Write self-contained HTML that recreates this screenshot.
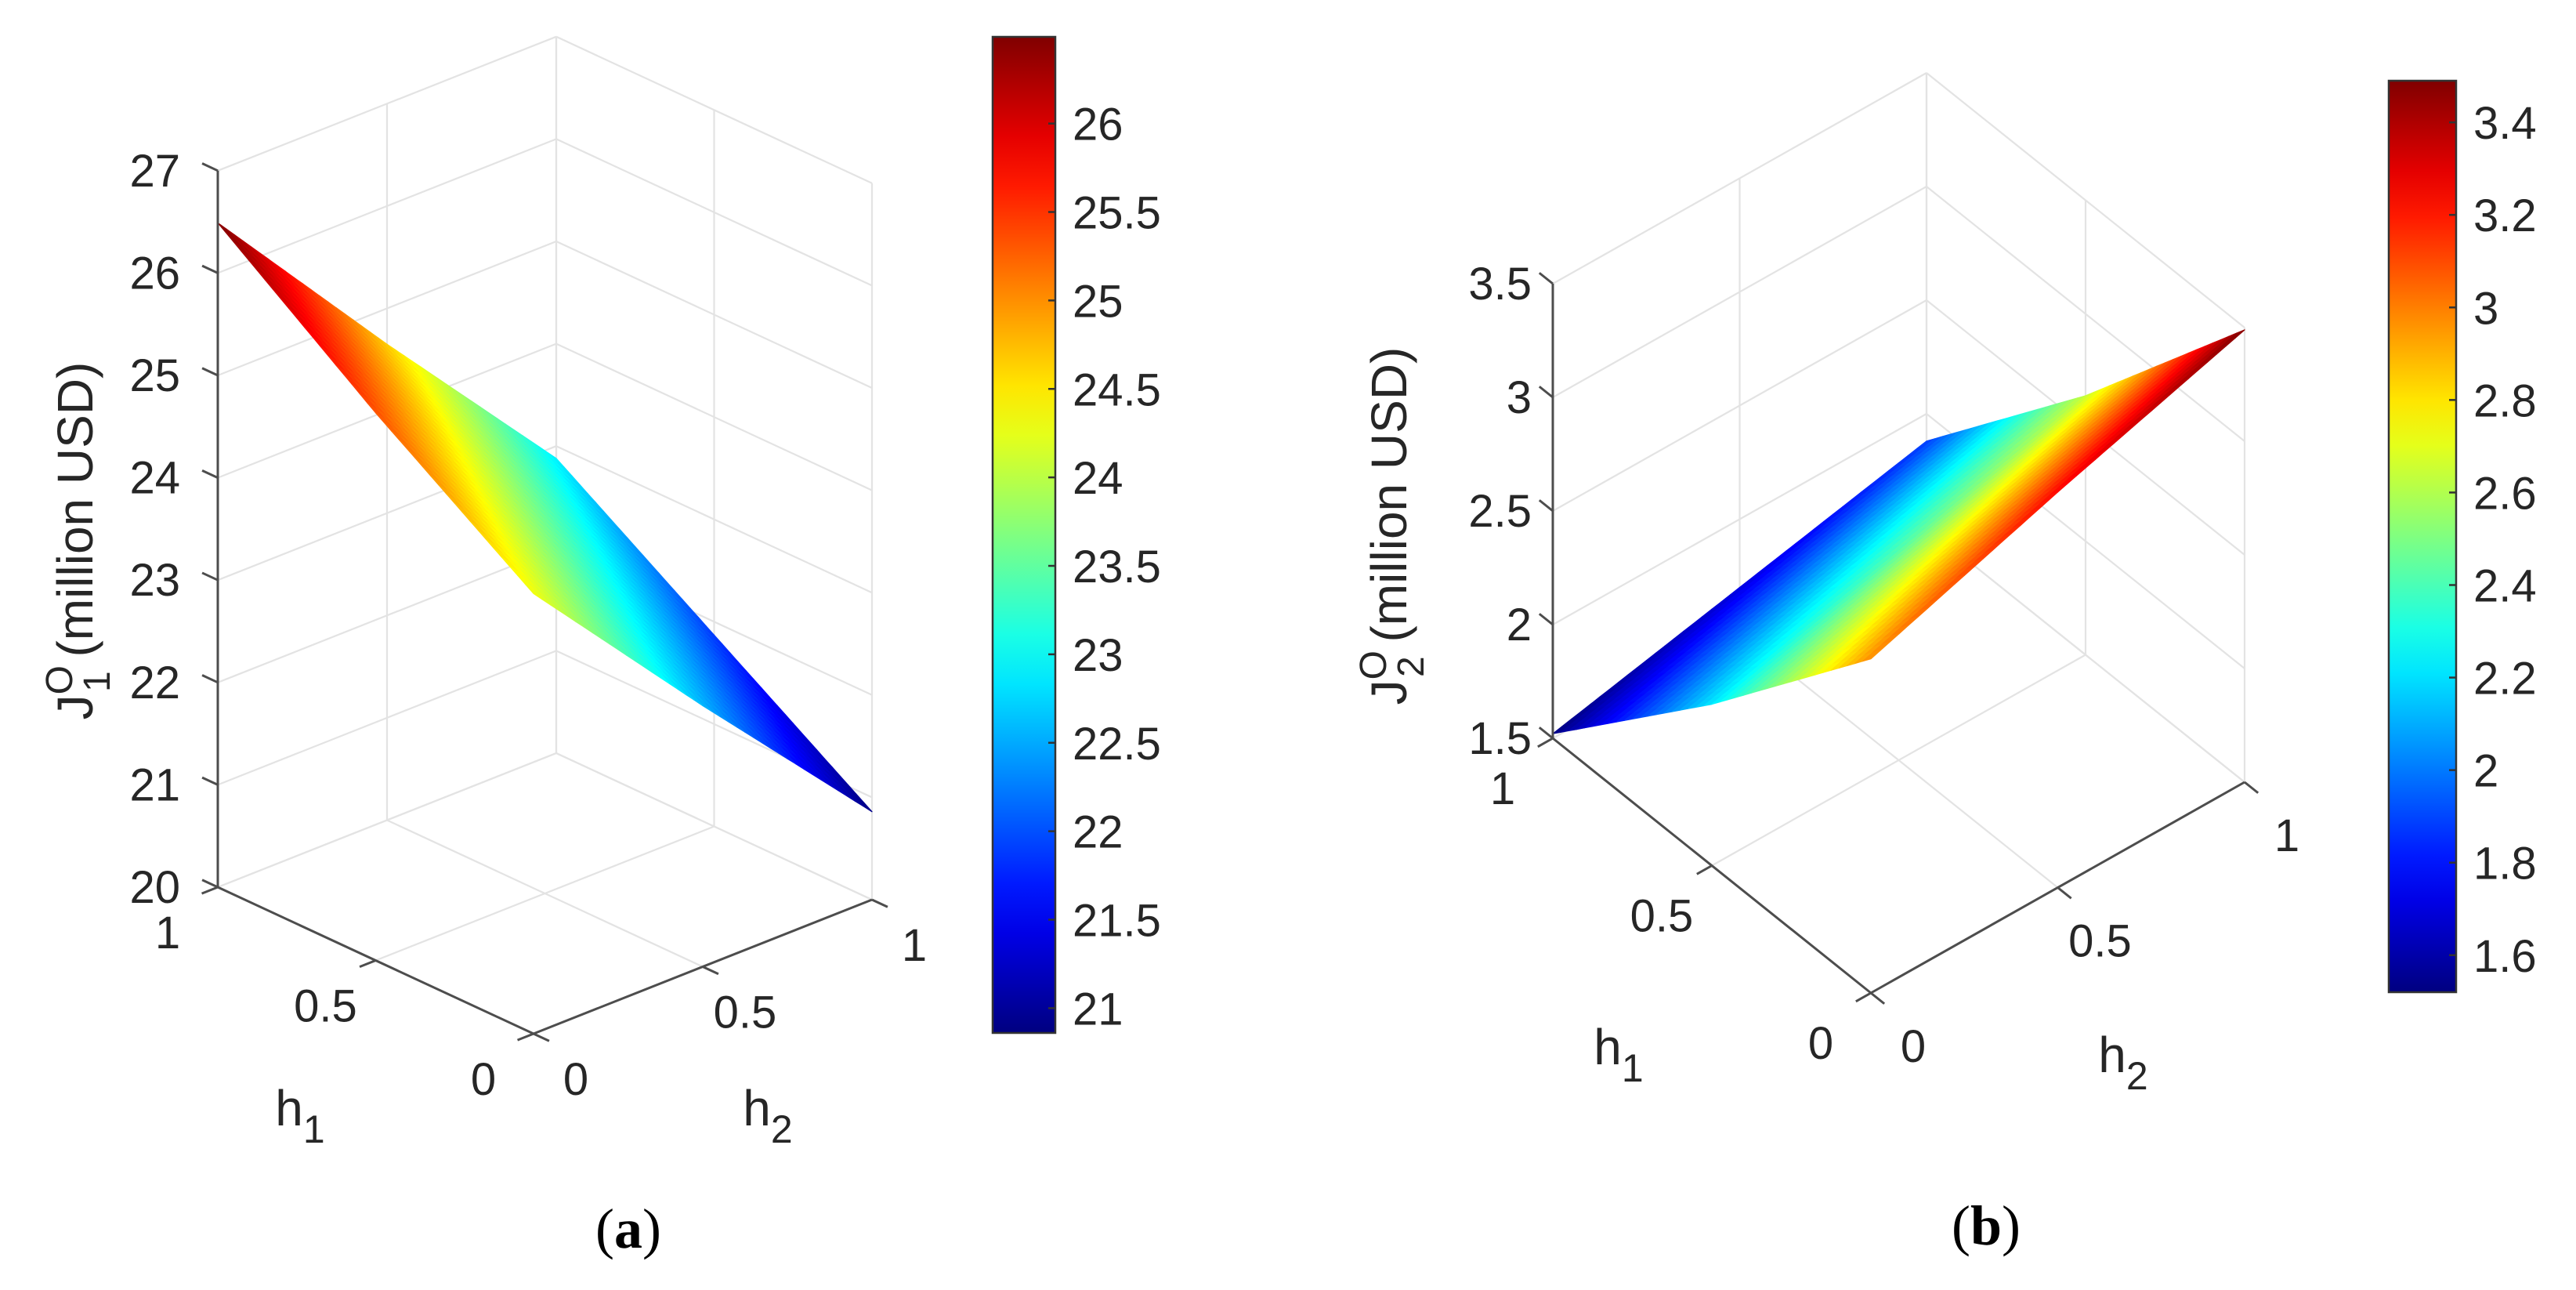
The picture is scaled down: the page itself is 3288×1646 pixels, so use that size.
<!DOCTYPE html>
<html><head><meta charset="utf-8">
<style>
html,body{margin:0;padding:0;background:#fff;}
svg{display:block;}
text{font-family:"Liberation Sans",sans-serif;fill:#262626;}
.cap{font-family:"Liberation Serif",serif;fill:#000;}
</style></head>
<body>
<svg id="fig" width="3288" height="1646" viewBox="0 0 3288 1646" xmlns="http://www.w3.org/2000/svg">
<defs>
<linearGradient id="jetGrad" x1="0" y1="1" x2="0" y2="0"></linearGradient>
</defs>
<g id="panelA"></g>
<g id="panelB"></g>
<text class="cap" x="802" y="1592" font-size="72" text-anchor="middle">(<tspan font-weight="bold">a</tspan>)</text>
<text class="cap" x="2535" y="1588" font-size="72" text-anchor="middle">(<tspan font-weight="bold">b</tspan>)</text>
</svg>
<script>
// ---- data ----
const h1Vals = [0, 0.5, 1];
const h2Vals = [0, 0.5, 1];
const h1Ticks = ["0", "0.5", "1"];
const h2Ticks = ["0", "0.5", "1"];
// surface values z[h1 index][h2 index]
const zA = [[24.30, 22.55, 20.86],
            [25.35, 23.60, 21.87],
            [26.49, 24.65, 22.88]];
const zB = [[2.97, 3.24, 3.49],
            [2.21, 2.42, 2.64],
            [1.52, 1.70, 1.88]];
const zTicksA = [20, 21, 22, 23, 24, 25, 26, 27];
const zTicksB = [1.5, 2, 2.5, 3, 3.5];
const cbTicksA = [21, 21.5, 22, 22.5, 23, 23.5, 24, 24.5, 25, 25.5, 26];
const cbTicksB = [1.6, 1.8, 2, 2.2, 2.4, 2.6, 2.8, 3, 3.2, 3.4];
const cbRangeA = [20.86, 26.49];
const cbRangeB = [1.52, 3.49];

const NS = "http://www.w3.org/2000/svg";
function jet(t){
  t = Math.max(0, Math.min(1, t));
  const c = v => Math.round(255 * Math.max(0, Math.min(1, v)));
  return `rgb(${c(1.5-Math.abs(4*t-3))},${c(1.5-Math.abs(4*t-2))},${c(1.5-Math.abs(4*t-1))})`;
}
const grad = document.getElementById('jetGrad');
for (let i = 0; i <= 20; i++) {
  const s = document.createElementNS(NS, 'stop');
  s.setAttribute('offset', (i/20).toString());
  s.setAttribute('stop-color', jet(i/20));
  grad.appendChild(s);
}
function el(parent, tag, attrs){
  const e = document.createElementNS(NS, tag);
  for (const k in attrs) e.setAttribute(k, attrs[k]);
  parent.appendChild(e);
  return e;
}
function interp(z, a, b){
  const fa = a*(h1Vals.length-1), fb = b*(h2Vals.length-1);
  const i = Math.min(Math.floor(fa), h1Vals.length-2), j = Math.min(Math.floor(fb), h2Vals.length-2);
  const u = fa - i, v = fb - j;
  return z[i][j]*(1-u)*(1-v) + z[i+1][j]*u*(1-v) + z[i][j+1]*(1-u)*v + z[i+1][j+1]*u*v;
}

const FS = 58;
function panel(cfg){
  const g = document.getElementById(cfg.id);
  const [zmin, zmax] = [cfg.zTicks[0], cfg.zTicks[cfg.zTicks.length-1]];
  const P = (a, b, z) => [cfg.O[0] + a*cfg.A[0] + b*cfg.B[0],
                          cfg.O[1] + a*cfg.A[1] + b*cfg.B[1] - (z - zmin)*cfg.zs];
  const line = (p, q, name, stroke, w) => {
    const l = el(g, 'line', {x1:p[0], y1:p[1], x2:q[0], y2:q[1], stroke:stroke, 'stroke-width':w});
    
    
    return l;
  };
  const gc = '#e3e3e3';
  cfg.zTicks.forEach(z => {
    line(P(1,0,z), P(1,1,z), 'grid-line-z', gc, 2.2);
    line(P(1,1,z), P(0,1,z), 'grid-line-z', gc, 2.2);
  });
  h2Vals.forEach(b => { if (b > 0) line(P(1,b,zmin), P(1,b,zmax), 'grid-line-h2-wall', gc, 2.2); });
  h1Vals.forEach(a => { line(P(a,1,zmin), P(a,1,zmax), 'grid-line-h1-wall', gc, 2.2); });
  h1Vals.forEach(a => { if (a > 0) line(P(a,0,zmin), P(a,1,zmin), 'grid-line-floor-h1', gc, 2.2); });
  h2Vals.forEach(b => { if (b > 0) line(P(0,b,zmin), P(1,b,zmin), 'grid-line-floor-h2', gc, 2.2); });

  const N = 40, quads = [];
  for (let i = 0; i < N; i++) for (let j = 0; j < N; j++) {
    const a0 = i/N, a1 = (i+1)/N, b0 = j/N, b1 = (j+1)/N;
    const zs = [interp(cfg.z,a0,b0), interp(cfg.z,a1,b0), interp(cfg.z,a1,b1), interp(cfg.z,a0,b1)];
    quads.push({d: a0 + b0, pts: [P(a0,b0,zs[0]), P(a1,b0,zs[1]), P(a1,b1,zs[2]), P(a0,b1,zs[3])],
                zc: (zs[0]+zs[1]+zs[2]+zs[3])/4});
  }
  quads.sort((p, q) => q.d - p.d);
  const sg = el(g, 'g', {});
  
  
  quads.forEach(q => {
    const col = jet((q.zc - cfg.cb[0]) / (cfg.cb[1] - cfg.cb[0]));
    const pg = el(sg, 'polygon', {points: q.pts.map(p => p[0].toFixed(1)+','+p[1].toFixed(1)).join(' '),
      fill: col, stroke: col, 'stroke-width': 1.2, 'stroke-linejoin': 'round'});
    
    
  });

  const ac = '#4d4d4d';
  line(P(1,0,zmin), P(1,0,zmax), 'z-axis', ac, 3);
  line(P(1,0,zmin), P(0,0,zmin), 'h1-axis', ac, 3);
  line(P(0,0,zmin), P(0,1,zmin), 'h2-axis', ac, 3);
  const nA = Math.hypot(cfg.A[0], cfg.A[1]), nB = Math.hypot(cfg.B[0], cfg.B[1]);
  cfg.zTicks.forEach((z, k) => {
    const p = P(1,0,z);
    line(p, [p[0] + cfg.A[0]/nA*22, p[1] + cfg.A[1]/nA*22], 'z-tick', ac, 3);
    const t = el(g, 'text', {x: cfg.zLabX, y: p[1] + 20, 'font-size': FS, 'text-anchor': 'end'});
    
    
    t.textContent = String(z);
  });
  h1Vals.forEach((a, k) => {
    const p = P(a,0,zmin);
    line(p, [p[0] - cfg.B[0]/nB*22, p[1] - cfg.B[1]/nB*22], 'h1-tick', ac, 3);
    const t = el(g, 'text', {x: p[0] + cfg.h1Off[0], y: p[1] + cfg.h1Off[1], 'font-size': FS, 'text-anchor': 'middle'});
    
    
    t.textContent = h1Ticks[k];
  });
  h2Vals.forEach((b, k) => {
    const p = P(0,b,zmin);
    line(p, [p[0] - cfg.A[0]/nA*22, p[1] - cfg.A[1]/nA*22], 'h2-tick', ac, 3);
    const t = el(g, 'text', {x: p[0] + cfg.h2Off[0], y: p[1] + cfg.h2Off[1], 'font-size': FS, 'text-anchor': 'middle'});
    
    
    t.textContent = h2Ticks[k];
  });
  const mk = (x, y, name, main, sub) => {
    const t = el(g, 'text', {x: x, y: y, 'font-size': 64, 'text-anchor': 'middle'});
    
    
    t.innerHTML = main + '<tspan font-size="50" dy="22">' + sub + '</tspan>';
  };
  mk(cfg.h1Title[0], cfg.h1Title[1], 'h1-axis-title', 'h', '1');
  mk(cfg.h2Title[0], cfg.h2Title[1], 'h2-axis-title', 'h', '2');
  const yl = el(g, 'text', {x: 0, y: 0, 'font-size': 64, 'text-anchor': 'middle',
    transform: `translate(${cfg.yTitle[0]},${cfg.yTitle[1]}) rotate(-90)`});
  
  
  yl.innerHTML = 'J<tspan font-size="48" dy="-26">O</tspan><tspan font-size="48" dx="-34" dy="48">' + cfg.sub +
                 '</tspan><tspan dy="-22"> (million USD)</tspan>';

  const [cx0, cx1, cy0, cy1] = cfg.cbBox;
  const r = el(g, 'rect', {x: cx0, y: cy0, width: cx1-cx0, height: cy1-cy0, fill: 'url(#jetGrad)', stroke: '#333', 'stroke-width': 2.5});
  
  
  const cy = v => cy1 - (v - cfg.cb[0]) / (cfg.cb[1] - cfg.cb[0]) * (cy1 - cy0);
  cfg.cbTicks.forEach(v => {
    const y = cy(v);
    line([cx1 - 9, y], [cx1, y], 'colorbar-tick', '#333', 2.5);
    const t = el(g, 'text', {x: cx1 + 22, y: y + 21, 'font-size': FS});
    
    
    t.textContent = String(v);
  });
}

panel({id: 'panelA', O: [681, 1319], A: [-403, -187], B: [432, -171], zs: 130.6,
  z: zA, zTicks: zTicksA, cb: cbRangeA, cbTicks: cbTicksA, cbBox: [1267, 1347, 47, 1318],
  zLabX: 230, h1Off: [-64, 78], h2Off: [54, 78], h1Title: [383, 1436], h2Title: [980, 1436],
  yTitle: [118, 690], sub: '1'});
panel({id: 'panelB', O: [2388, 1267], A: [-406, -325], B: [477, -269], zs: 290,
  z: zB, zTicks: zTicksB, cb: cbRangeB, cbTicks: cbTicksB, cbBox: [3049, 3135, 103, 1266],
  zLabX: 1955, h1Off: [-64, 84], h2Off: [54, 88], h1Title: [2066, 1358], h2Title: [2710, 1368],
  yTitle: [1795, 671], sub: '2'});
</script>
</body></html>
